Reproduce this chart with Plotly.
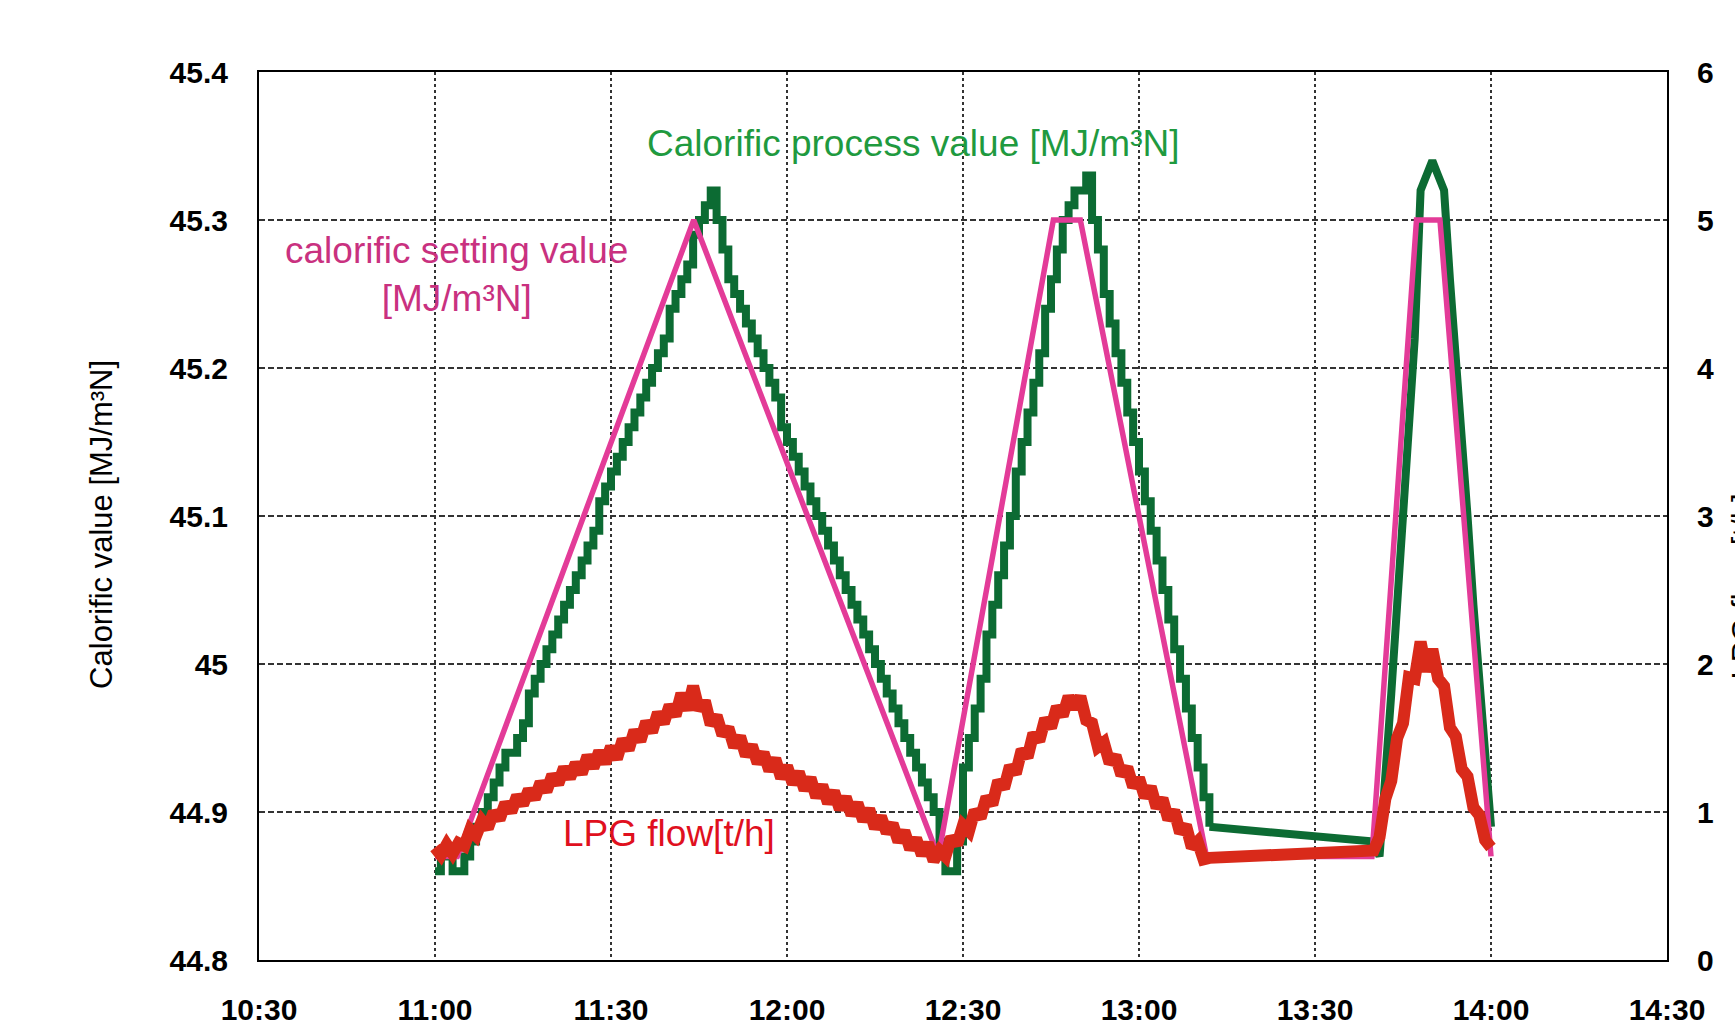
import plotly.graph_objects as go

# ---- data (minutes after 11:00) ----
tick_minutes = [-30, 0, 30, 60, 90, 120, 150, 180, 210]
tick_labels = ["10:30", "11:00", "11:30", "12:00", "12:30", "13:00", "13:30", "14:00", "14:30"]
left_ticks = [44.8, 44.9, 45.0, 45.1, 45.2, 45.3, 45.4]
left_labels = ["44.8", "44.9", "45", "45.1", "45.2", "45.3", "45.4"]
right_ticks = [0, 1, 2, 3, 4, 5, 6]

# calorific setting value (breakpoints)
setting_t = [0, 3.8, 44.1, 85.8, 105.4, 110.0, 131.5, 159.7, 167.3, 171.3, 180]
setting_v = [44.87, 44.87, 45.30, 44.87, 45.30, 45.30, 44.87, 44.87, 45.30, 45.30, 44.87]

# calorific process value, one reading per minute, 11:00 - 13:12
process1_v = [
    44.86, 44.87, 44.87, 44.86, 44.86, 44.87, 44.88, 44.89, 44.90, 44.91,
    44.92, 44.93, 44.94, 44.94, 44.95, 44.96, 44.98, 44.99, 45.00, 45.01,
    45.02, 45.03, 45.04, 45.05, 45.06, 45.07, 45.08, 45.09, 45.11, 45.12,
    45.13, 45.14, 45.15, 45.16, 45.17, 45.18, 45.19, 45.20, 45.21, 45.22,
    45.24, 45.25, 45.26, 45.27, 45.29, 45.30, 45.31, 45.32, 45.30, 45.28,
    45.26, 45.25, 45.24, 45.23, 45.22, 45.21, 45.20, 45.19, 45.18, 45.16,
    45.15, 45.14, 45.13, 45.12, 45.11, 45.10, 45.09, 45.08, 45.07, 45.06,
    45.05, 45.04, 45.03, 45.02, 45.01, 45.00, 44.99, 44.98, 44.97, 44.96,
    44.95, 44.94, 44.93, 44.92, 44.91, 44.90, 44.88, 44.86, 44.86, 44.88,
    44.93, 44.95, 44.97, 44.99, 45.02, 45.04, 45.06, 45.08, 45.10, 45.13,
    45.15, 45.17, 45.19, 45.21, 45.24, 45.26, 45.28, 45.30, 45.31, 45.32,
    45.32, 45.33, 45.30, 45.28, 45.25, 45.23, 45.21, 45.19, 45.17, 45.15,
    45.13, 45.11, 45.09, 45.07, 45.05, 45.03, 45.01, 44.99, 44.97, 44.95,
    44.93, 44.91, 44.89,
]
process1_t = list(range(0, 133))
# calorific process value, 13:40 - 14:00
process3_t = list(range(160, 181))
process3_v = [44.88, 44.87, 44.92, 44.98, 45.04, 45.10, 45.16, 45.22, 45.32, 45.33,
              45.34, 45.33, 45.32, 45.26, 45.21, 45.15, 45.10, 45.04, 44.99, 44.94, 44.89]

# LPG flow [t/h], one reading per minute
lpg1_v = [
    0.76, 0.71, 0.78, 0.72, 0.79, 0.77, 0.88, 0.84, 0.94, 0.89,
    1.00, 0.95, 1.06, 1.00, 1.11, 1.05, 1.15, 1.09, 1.20, 1.14,
    1.25, 1.19, 1.30, 1.23, 1.33, 1.26, 1.38, 1.30, 1.41, 1.33,
    1.44, 1.36, 1.49, 1.42, 1.55, 1.48, 1.61, 1.54, 1.67, 1.60,
    1.72, 1.65, 1.80, 1.69, 1.85, 1.69, 1.75, 1.59, 1.65, 1.52,
    1.57, 1.44, 1.51, 1.38, 1.45, 1.33, 1.40, 1.28, 1.36, 1.23,
    1.31, 1.19, 1.27, 1.15, 1.23, 1.10, 1.18, 1.06, 1.14, 1.02,
    1.10, 0.98, 1.06, 0.94, 1.02, 0.89, 0.97, 0.86, 0.92, 0.80,
    0.87, 0.75, 0.82, 0.71, 0.79, 0.67, 0.74, 0.70, 0.83, 0.78,
    0.91, 0.87, 1.01, 0.96, 1.10, 1.05, 1.21, 1.16, 1.31, 1.26,
    1.42, 1.37, 1.53, 1.48, 1.63, 1.57, 1.71, 1.65, 1.78, 1.70,
    1.78, 1.62, 1.60, 1.44, 1.47, 1.33, 1.38, 1.25, 1.30, 1.17,
    1.23, 1.10, 1.17, 1.03, 1.09, 0.95, 1.01, 0.86, 0.91, 0.76,
    0.80, 0.68, 0.69,
]
lpg1_t = list(range(0, 133))
lpg3_t = list(range(160, 181))
lpg3_v = [0.74, 0.83, 1.09, 1.21, 1.50, 1.60, 1.91, 1.90, 2.15, 1.95,
          2.10, 1.90, 1.85, 1.57, 1.51, 1.29, 1.24, 1.03, 0.98, 0.81, 0.76]

GREEN = "#0c6b33"
PINK = "#e33b98"
RED = "#d92a1a"
FONT = "Liberation Sans, Arial, Helvetica, sans-serif"

fig = go.Figure()
fig.add_trace(go.Scatter(x=process1_t, y=process1_v, mode="lines",
                         line=dict(color=GREEN, width=8, shape="hv"), yaxis="y"))
fig.add_trace(go.Scatter(x=[process1_t[-1]] + process3_t, y=[process1_v[-1]] + process3_v,
                         mode="lines", line=dict(color=GREEN, width=8), yaxis="y"))
fig.add_trace(go.Scatter(x=setting_t, y=setting_v, mode="lines",
                         line=dict(color=PINK, width=5.5), yaxis="y"))
fig.add_trace(go.Scatter(x=lpg1_t + lpg3_t, y=lpg1_v + lpg3_v, mode="lines",
                         line=dict(color=RED, width=12), yaxis="y2"))

grid = dict(showgrid=True, gridcolor="#333333", gridwidth=1.5)

fig.update_layout(
    width=1735, height=1030,
    margin=dict(l=259, r=68, t=72, b=70, autoexpand=False),
    paper_bgcolor="white", plot_bgcolor="white",
    showlegend=False,
    font=dict(family=FONT, color="black"),
    xaxis=dict(range=[-30, 210], tickvals=tick_minutes, ticktext=tick_labels,
               griddash="3px,3px", **grid, automargin=False,
               showline=True, linecolor="black", linewidth=2, mirror=True,
               ticks="", ticklabelstandoff=22, zeroline=False,
               tickfont=dict(size=30, family=FONT, weight="bold")),
    yaxis=dict(range=[44.8, 45.4], tickvals=left_ticks, ticktext=left_labels,
               griddash="6px,3px", **grid, automargin=False,
               showline=True, linecolor="black", linewidth=2, mirror=True,
               ticks="", ticklabelstandoff=23, zeroline=False,
               tickfont=dict(size=30, family=FONT, weight="bold")),
    yaxis2=dict(range=[0, 6], tickvals=right_ticks, overlaying="y", side="right",
                showgrid=False, zeroline=False, showline=True, linecolor="black", linewidth=2,
                ticks="", ticklabelstandoff=22, automargin=False,
                tickfont=dict(size=30, family=FONT, weight="bold")),
)

fig.add_annotation(text="Calorific value [MJ/m³N]", xref="paper", yref="paper",
                   x=-0.1115, y=0.49, xanchor="center", yanchor="middle", textangle=-90,
                   showarrow=False, font=dict(size=31, family=FONT, color="black"))
fig.add_annotation(text="LPG flow [t/h]", xref="paper", yref="paper",
                   x=1.0405, y=0.42, xanchor="left", yanchor="middle", textangle=-90,
                   showarrow=False, font=dict(size=31, family=FONT, color="black"))
fig.add_annotation(text="Calorific process value [MJ/m³N]", xref="paper", yref="paper",
                   x=0.4645, y=0.919, xanchor="center", yanchor="middle",
                   showarrow=False, font=dict(size=37, family=FONT, color="#1f9a3f"))
fig.add_annotation(text="calorific setting value<br>[MJ/m³N]", xref="paper", yref="paper",
                   x=0.1403, y=0.772, xanchor="center", yanchor="middle",
                   showarrow=False, font=dict(size=37, family=FONT, color="#c9317f"))
fig.add_annotation(text="LPG flow[t/h]", xref="paper", yref="paper",
                   x=0.291, y=0.143, xanchor="center", yanchor="middle",
                   showarrow=False, font=dict(size=37, family=FONT, color="#e0101e"))

fig.write_html("out.html", config={"displayModeBar": False},
               post_script="document.body.style.margin='0px';")
